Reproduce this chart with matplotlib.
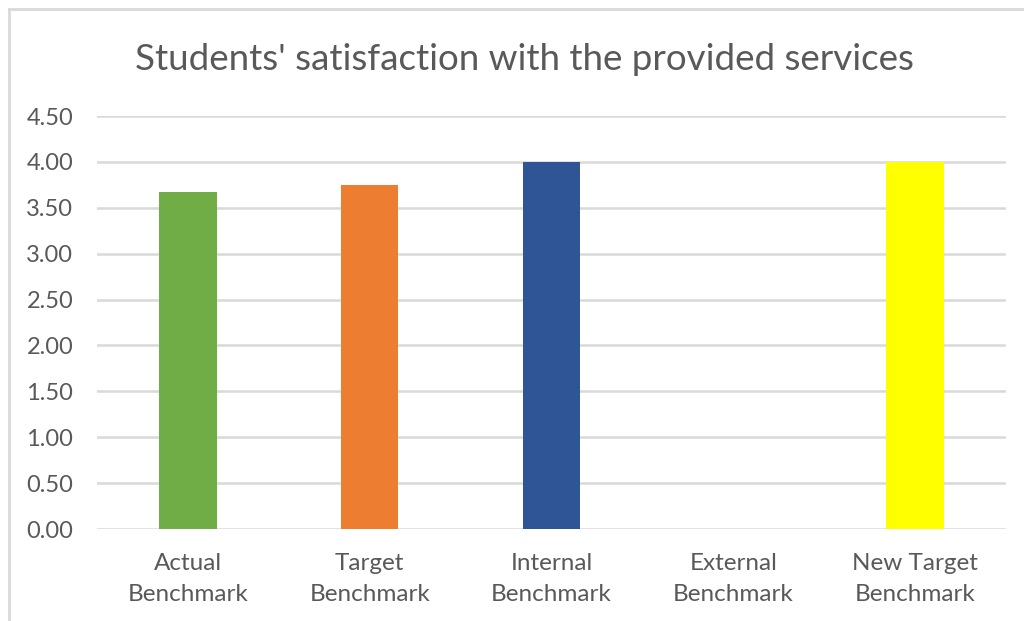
import matplotlib
matplotlib.use("Agg")
import matplotlib.pyplot as plt
from matplotlib.lines import Line2D

categories = ["Actual\nBenchmark", "Target\nBenchmark", "Internal\nBenchmark",
              "External\nBenchmark", "New Target\nBenchmark"]
values = [3.67, 3.75, 4.00, 0.0, 4.00]
colors = ["#70AD47", "#ED7D31", "#2F5597", "#A5A5A5", "#FFFF00"]
yticks = [0.0, 0.5, 1.0, 1.5, 2.0, 2.5, 3.0, 3.5, 4.0, 4.5]
title = "Students' satisfaction with the provided services"

plt.rcParams["font.family"] = ["Lato", "DejaVu Sans"]

fig = plt.figure(figsize=(10.24, 6.21), dpi=100)
ax = fig.add_axes([97 / 1024, 1 - 529 / 621, 909 / 1024, 413 / 621])

x = list(range(len(categories)))
ax.bar(x, values, width=0.315, color=colors, zorder=3)

ax.set_xlim(-0.5, len(categories) - 0.5)
ax.set_ylim(0, 4.5)
ax.set_yticks(yticks)
ax.set_yticklabels([f"{v:.2f}" for v in yticks], fontsize=17, color="#595959")
ax.set_xticks(x)
ax.set_xticklabels(categories, fontsize=17.5, color="#595959", linespacing=1.6)
ax.tick_params(axis="both", length=0)
ax.tick_params(axis="y", pad=17)
ax.tick_params(axis="x", pad=17)
ax.yaxis.grid(True, color="#D9D9D9", linewidth=1.8, zorder=0)
for s in ax.spines.values():
    s.set_visible(False)

fig.text(0.512, 1 - 59 / 621, title, ha="center", va="center",
         fontsize=26.5, color="#595959")

# outer chart frame
fig.add_artist(Line2D([9 / 1024, 9 / 1024], [0, 1 - 9 / 621],
                      transform=fig.transFigure, color="#D9D9D9", linewidth=2))
fig.add_artist(Line2D([9 / 1024, 1], [1 - 9 / 621, 1 - 9 / 621],
                      transform=fig.transFigure, color="#D9D9D9", linewidth=2))

fig.savefig("out.png", dpi=100)
